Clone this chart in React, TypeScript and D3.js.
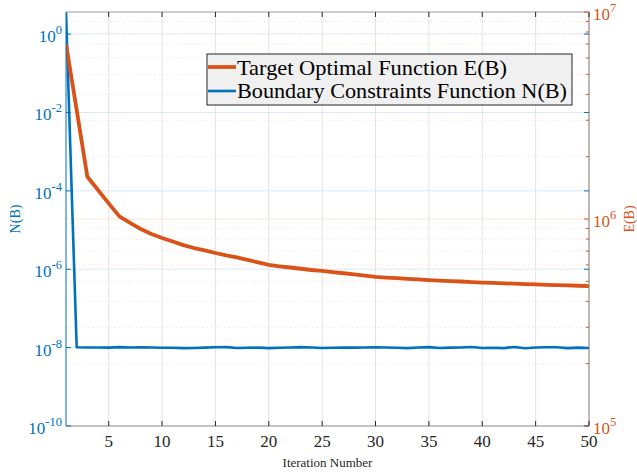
import * as d3 from "d3";
import React from "react";

// iteration number
const iterations = d3.range(1, 51);

// E(B) - target optimal function (right axis)
const energy = [
  7.0e6, 3.36e6, 1.6e6, 1.38e6, 1.19e6, 1.03e6, 9.57e5, 8.95e5, 8.47e5, 8.1e5,
  7.78e5, 7.48e5, 7.24e5, 7.05e5, 6.85e5, 6.67e5, 6.52e5, 6.34e5, 6.17e5, 6.0e5,
  5.91e5, 5.83e5, 5.75e5, 5.67e5, 5.61e5, 5.54e5, 5.47e5, 5.4e5, 5.32e5, 5.25e5,
  5.21e5, 5.18e5, 5.14e5, 5.11e5, 5.07e5, 5.04e5, 5.01e5, 4.99e5, 4.96e5, 4.93e5,
  4.91e5, 4.89e5, 4.87e5, 4.85e5, 4.83e5, 4.81e5, 4.79e5, 4.78e5, 4.76e5, 4.74e5,
];

// N(B) - boundary constraints function (left axis)
const constraint = [
  3.66, 1.02e-8, 1.01e-8, 1.01e-8, 1.0e-8, 1.03e-8, 1.01e-8, 1.02e-8, 1.01e-8, 0.99e-8,
  0.99e-8, 0.97e-8, 0.98e-8, 1.0e-8, 1.02e-8, 1.03e-8, 0.98e-8, 0.99e-8, 1.0e-8, 0.97e-8,
  0.99e-8, 1.01e-8, 1.03e-8, 1.01e-8, 0.98e-8, 0.99e-8, 1.01e-8, 1.0e-8, 1.01e-8, 1.02e-8,
  1.01e-8, 0.99e-8, 0.97e-8, 1.01e-8, 1.03e-8, 0.98e-8, 1.0e-8, 1.01e-8, 1.04e-8, 0.98e-8,
  0.99e-8, 0.97e-8, 1.04e-8, 0.96e-8, 1.01e-8, 1.02e-8, 1.02e-8, 0.97e-8, 1.0e-8, 0.98e-8,
];

const xTicks = [5, 10, 15, 20, 25, 30, 35, 40, 45, 50];
const leftExponents = [0, -2, -4, -6, -8, -10];
const rightExponents = [5, 6, 7];
const legendLabels = ["Target Optimal Function E(B)", "Boundary Constraints Function N(B)"];

const BLUE = "#0072BD";
const ORANGE = "#D95319";
const FONT = "'Liberation Serif', 'Times New Roman', serif";

export default function App() {
  const width = 637;
  const height = 472;
  const left = 66;
  const right = 589;
  const top = 12;
  const bottom = 426;

  const x = d3.scaleLinear().domain([1, 50]).range([left, right]);
  const yL = d3.scaleLog().domain([1e-10, d3.max(constraint)]).range([bottom, top]);
  const yR = d3.scaleLog().domain([1e5, 1e7]).range([bottom, top]);

  const lineE = d3.line<number>().x((d, i) => x(iterations[i])).y(d => yR(d));
  const lineN = d3.line<number>().x((d, i) => x(iterations[i])).y(d => yL(d));

  // minor ticks of the right axis: 2..9 x 10^k
  const rightMinor: number[] = [];
  [1e5, 1e6].forEach(b => d3.range(2, 10).forEach(m => rightMinor.push(b * m)));

  const tickLabel = (base: string, exp: number) => (
    <>
      <tspan>{base}</tspan>
      <tspan fontSize={12.5} dy={-8}>{exp}</tspan>
    </>
  );

  return (
    <svg width={width} height={height} style={{ position: "absolute", left: 0, top: 0, background: "white" }} fontFamily={FONT}>
      <defs>
        <clipPath id="plot">
          <rect x={left} y={top} width={right - left} height={bottom - top} />
        </clipPath>
      </defs>

      {/* grid */}
      {rightMinor.map(v => (
        <line key={"rm" + v} x1={left} x2={right} y1={yR(v)} y2={yR(v)} stroke="#f8dccf" strokeDasharray="1.2,3.2" />
      ))}
      <line x1={left} x2={right} y1={yR(1e6)} y2={yR(1e6)} stroke="#fae3d9" />
      {leftExponents.map(e => (
        <line key={"lg" + e} x1={left} x2={right} y1={yL(10 ** e)} y2={yL(10 ** e)} stroke="#d9e8f4" />
      ))}
      {xTicks.map(t => (
        <line key={"xg" + t} x1={x(t)} x2={x(t)} y1={top} y2={bottom} stroke="#e3e3e3" />
      ))}

      {/* data */}
      <g clipPath="url(#plot)">
        <path d={lineN(constraint) ?? ""} fill="none" stroke={BLUE} strokeWidth={2.6} strokeLinejoin="round" />
        <path d={lineE(energy) ?? ""} fill="none" stroke={ORANGE} strokeWidth={3.8} strokeLinejoin="round" />
      </g>

      {/* box */}
      <line x1={left} x2={right} y1={top} y2={top} stroke="#a39893" />
      <line x1={left} x2={right} y1={bottom} y2={bottom} stroke="#9a9290" />
      <line x1={right} x2={right} y1={top} y2={bottom} stroke="#8e7e77" />
      <line x1={left} x2={left} y1={top} y2={bottom} stroke={BLUE} />

      {/* x ticks */}
      {xTicks.map(t => (
        <g key={"xt" + t}>
          <line x1={x(t)} x2={x(t)} y1={bottom} y2={bottom - 5} stroke="#262626" />
          <line x1={x(t)} x2={x(t)} y1={top} y2={top + 5} stroke="#262626" />
          <text x={x(t)} y={447} textAnchor="middle" fontSize={17} fill="#262626">{t}</text>
        </g>
      ))}
      <text x={(left + right) / 2} y={467} textAnchor="middle" fontSize={13} fill="#262626">Iteration Number</text>

      {/* left axis */}
      {leftExponents.map(e => (
        <g key={"lt" + e}>
          <line x1={left} x2={left + 5} y1={yL(10 ** e)} y2={yL(10 ** e)} stroke={BLUE} />
          <line x1={right} x2={right - 5} y1={yL(10 ** e)} y2={yL(10 ** e)} stroke={BLUE} />
          <text x={left - 4} y={yL(10 ** e) + 8} textAnchor="end" fontSize={17} fill={BLUE}>
            {tickLabel("10", e)}
          </text>
        </g>
      ))}
      <text transform={`translate(20,${(top + bottom) / 2}) rotate(-90)`} textAnchor="middle" fontSize={14} fill={BLUE}>N(B)</text>

      {/* right axis */}
      {rightMinor.map(v => (
        <line key={"rt" + v} x1={right} x2={right - 3} y1={yR(v)} y2={yR(v)} stroke={ORANGE} />
      ))}
      {rightExponents.map(e => (
        <g key={"re" + e}>
          <line x1={right} x2={right - 5} y1={yR(10 ** e)} y2={yR(10 ** e)} stroke={ORANGE} />
          <text x={right + 4} y={yR(10 ** e) + 8} textAnchor="start" fontSize={17} fill={ORANGE}>
            {tickLabel("10", e)}
          </text>
        </g>
      ))}
      <text transform={`translate(634,${(top + bottom) / 2}) rotate(-90)`} textAnchor="middle" fontSize={14} fill={ORANGE}>E(B)</text>

      {/* legend */}
      <g>
        <rect x={207} y={54} width={365} height={51} fill="#f0f0f0" stroke="#262626" />
        {legendLabels.map((lab, i) => (
          <g key={lab}>
            <line x1={208} x2={236} y1={67 + i * 24} y2={67 + i * 24} stroke={i === 0 ? ORANGE : BLUE} strokeWidth={i === 0 ? 3.8 : 2.6} />
            <text x={237} y={74.5 + i * 23} fontSize={21} fill="#000" textLength={i === 0 ? 270 : 330} lengthAdjust="spacingAndGlyphs">{lab}</text>
          </g>
        ))}
      </g>
    </svg>
  );
}
